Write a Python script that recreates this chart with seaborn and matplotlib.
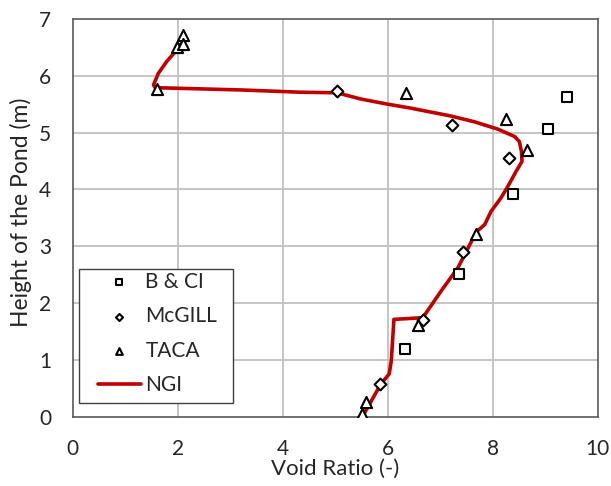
import matplotlib
matplotlib.use("Agg")
import matplotlib.pyplot as plt
from matplotlib.patches import Rectangle
import seaborn as sns
import pandas as pd

# Measured void ratios (x) against height in the pond (y, metres)
bci_void = [9.41, 9.06, 8.39, 7.36, 6.33]
bci_height = [5.62, 5.06, 3.92, 2.51, 1.19]

mcgill_void = [5.04, 7.23, 8.31, 7.43, 6.68, 5.86]
mcgill_height = [5.74, 5.13, 4.56, 2.90, 1.70, 0.57]

taca_void = [2.10, 1.98, 2.10, 1.61, 6.35, 8.25, 8.66, 7.68, 6.58, 5.58, 5.52]
taca_height = [6.71, 6.51, 6.56, 5.77, 5.69, 5.24, 4.70, 3.22, 1.61, 0.25, 0.05]

# NGI profile, ordered from top of pond downwards
ngi_void = [2.08, 1.95, 1.79, 1.63, 1.54, 1.57, 3.20, 4.34, 5.04, 5.20, 5.49,
            6.00, 6.44, 7.21, 7.65, 8.10, 8.42, 8.51, 8.55, 8.56, 8.45, 8.29,
            8.16, 7.97, 7.85, 7.69, 7.34, 7.02, 6.67, 6.12, 6.07, 6.03, 5.87,
            5.62, 5.52]
ngi_height = [6.58, 6.42, 6.25, 6.04, 5.84, 5.79, 5.75, 5.71, 5.70, 5.66, 5.59,
              5.50, 5.43, 5.29, 5.19, 5.06, 4.93, 4.84, 4.67, 4.49, 4.32, 4.05,
              3.85, 3.61, 3.38, 3.25, 2.62, 2.21, 1.74, 1.71, 0.98, 0.75, 0.57,
              0.16, 0.00]

x_ticks = [0, 2, 4, 6, 8, 10]
y_ticks = [0, 1, 2, 3, 4, 5, 6, 7]

sns.set_theme(style="white")
plt.rcParams["font.family"] = ["Lato", "DejaVu Sans"]

fig = plt.figure(figsize=(6.11, 4.86), dpi=100)
ax = fig.add_axes([0.119, 0.143, 0.859, 0.818])

grid_c = "#c0c0c0"
for v in x_ticks[1:-1]:
    ax.axvline(v, color=grid_c, lw=1.3, zorder=0)
for v in y_ticks[1:-1]:
    ax.axhline(v, color=grid_c, lw=1.3, zorder=0)

marker_kw = dict(facecolor="white", edgecolor="black", linewidth=1.5, zorder=3)
sns.scatterplot(data=pd.DataFrame({"x": bci_void, "y": bci_height}), x="x", y="y",
                marker="s", s=62, label="B & CI", ax=ax, **marker_kw)
sns.scatterplot(data=pd.DataFrame({"x": mcgill_void, "y": mcgill_height}), x="x", y="y",
                marker="D", s=36, label="McGILL", ax=ax, **marker_kw)
sns.scatterplot(data=pd.DataFrame({"x": taca_void, "y": taca_height}), x="x", y="y",
                marker="^", s=64, label="TACA", ax=ax, **marker_kw)
sns.lineplot(data=pd.DataFrame({"x": ngi_void, "y": ngi_height}), x="x", y="y",
             sort=False, estimator=None, color="#c00000", lw=2.6, label="NGI",
             ax=ax, zorder=2)

ax.set_xlim(0, 10)
ax.set_ylim(0, 7)
ax.set_xticks(x_ticks)
ax.set_yticks(y_ticks)
ax.tick_params(axis="both", labelsize=15, colors="#262626", length=0)
ax.tick_params(axis="x", pad=16)
ax.tick_params(axis="y", pad=15.5)
ax.set_xlabel("Void Ratio (-)", fontsize=16, color="#262626", labelpad=0)
ax.set_ylabel("Height of the Pond (m)", fontsize=16.5, color="#262626")
ax.yaxis.set_label_coords(-0.077, 0.513)

for sp in ax.spines.values():
    sp.set_visible(True)
    sp.set_color("#595959")
    sp.set_linewidth(1.2)

# Legend box frame drawn separately so the padding can be wider than tall
ax.add_patch(Rectangle((0.012, 0.034), 0.294, 0.337, transform=ax.transAxes,
                       facecolor="white", edgecolor="#404040", lw=1.0, zorder=4))

# Reorder legend: markers first, then the NGI line
handles, labels = ax.get_legend_handles_labels()
order = [labels.index(n) for n in ["B & CI", "McGILL", "TACA", "NGI"]]
leg = ax.legend([handles[i] for i in order], [labels[i] for i in order],
                loc="lower left", bbox_to_anchor=(0.033, 0.034), borderaxespad=0,
                fontsize=15, frameon=False, markerscale=0.6,
                handlelength=2.1, handletextpad=0.2, labelspacing=0.7,
                borderpad=0.36)
leg.set_zorder(5)
for t in leg.get_texts():
    t.set_color("#262626")

fig.savefig("out.png", dpi=100)
